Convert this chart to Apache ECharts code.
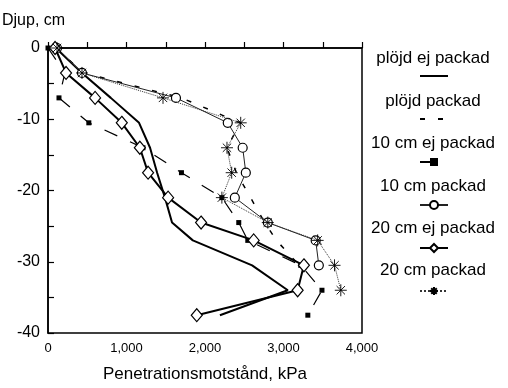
<!DOCTYPE html>
<html>
<head>
<meta charset="utf-8">
<script src="https://cdn.jsdelivr.net/npm/echarts@6/dist/echarts.min.js"></script>
<style>
html,body{margin:0;padding:0;background:#fff;}
#c{width:508px;height:388px;}
</style>
</head>
<body>
<div id="c"></div>
<script>
// ---- data ----
var depths = [0, -3.5, -7, -10.5, -14, -17.5, -21, -24.5, -27, -30.5, -34, -37.5];
var seriesNames = ['plöjd ej packad', 'plöjd packad', '10 cm ej packad', '10 cm packad', '20 cm ej packad', '20 cm packad'];
var plojdEjPackad = [100, 433, 800, 1160, 1300, 1390, 1490, 1580, 1845, 2600, 3055, 2190];
var plojdPackad = [100, 450, 1700, 2450, 2280, 2400, 2580, 2760, 2910, 3200];
var cm10EjPackad = [0, 216, 140, 520, 1210, 1700, 2215, 2430, 2545, 3220, 3490, 3310];
var cm10Packad = [115, 433, 1630, 2290, 2480, 2520, 2380, 2800, 3410, 3450];
var cm20EjPackad = [90, 230, 600, 940, 1170, 1275, 1530, 1950, 2620, 3260, 3180, 1895];
var cm20Packad = [115, 433, 1465, 2455, 2280, 2340, 2215, 2800, 3435, 3650, 3730];
var xTicks = [0, 1000, 2000, 3000, 4000];
var yTicks = [0, -10, -20, -30, -40];
var xTitle = 'Penetrationsmotstånd, kPa';
var yTitle = 'Djup, cm';

function pairs(vals) { return vals.map(function (v, i) { return [v, depths[i]]; }); }

var FONT = '"Liberation Sans", Arial, Helvetica, sans-serif';
var asterisk = 'path://M6 0 L6 12 M0 6 L12 6 M1.8 1.8 L10.2 10.2 M10.2 1.8 L1.8 10.2';

var chart = echarts.init(document.getElementById('c'), null, {renderer: 'canvas'});

var seriesDefs = [
  {data: plojdEjPackad, line: {color: '#000', width: 2, type: 'solid'}, symbol: 'none'},
  {data: plojdPackad, line: {color: '#000', width: 1.5, type: [5, 13]}, symbol: 'none'},
  {data: cm10EjPackad, line: {color: '#000', width: 1.2, type: [14, 14]}, symbol: 'rect', size: 5,
    item: {color: '#000', borderWidth: 0}},
  {data: cm10Packad, line: {color: '#222', width: 1, type: 'solid'}, symbol: 'circle', size: 9,
    item: {color: '#fff', borderColor: '#000', borderWidth: 1.2}},
  {data: cm20EjPackad, line: {color: '#000', width: 2, type: 'solid'}, symbol: 'diamond', size: [11, 13],
    item: {color: '#fff', borderColor: '#000', borderWidth: 1.2}},
  {data: cm20Packad, line: {color: '#333', width: 1, type: 'dotted'}, symbol: asterisk, size: 12,
    item: {color: 'rgba(0,0,0,0)', borderColor: '#000', borderWidth: 0.9}}
];

var series = seriesDefs.map(function (d, i) {
  return {
    name: seriesNames[i],
    type: 'line',
    data: pairs(d.data),
    symbol: d.symbol,
    symbolSize: d.size || 0,
    showSymbol: d.symbol !== 'none',
    lineStyle: d.line,
    itemStyle: d.item || {color: '#000'},
    color: '#000',
    animation: false,
    silent: true,
    z: 3 + i
  };
});

var legendCenters = [76, 119, 162, 205, 248, 291];
var legendTexts = [58, 101, 143, 186, 228, 270];

var legends = seriesNames.map(function (n, i) {
  var noSym = seriesDefs[i].symbol === 'none';
  var lg = {
    data: [n],
    left: 419,
    top: legendCenters[i] - 5,
    itemWidth: 28,
    itemHeight: 10,
    padding: 0,
    selectedMode: false,
    formatter: function () { return ''; },
    textStyle: {fontSize: 1}
  };
  if (noSym) {
    lg.itemStyle = {opacity: 0, color: 'rgba(0,0,0,0)', borderWidth: 0};
  }
  return lg;
});

var graphics = seriesNames.map(function (n, i) {
  return {
    type: 'text',
    x: 433,
    y: legendTexts[i],
    style: {
      text: n,
      font: '17px ' + FONT,
      fill: '#000',
      textAlign: 'center',
      textVerticalAlign: 'middle'
    }
  };
});
graphics.push({
  type: 'text', x: 2, y: 21,
  style: {text: yTitle, font: '16px ' + FONT, fill: '#000', textAlign: 'left', textVerticalAlign: 'middle'}
});

chart.setOption({
  backgroundColor: '#fff',
  animation: false,
  grid: {left: 48, right: 146, top: 48, bottom: 50, show: true, borderColor: '#000', borderWidth: 1.5, backgroundColor: 'transparent'},
  legend: legends,
  graphic: graphics,
  xAxis: {
    type: 'value', min: 0, max: 4000, interval: 1000,
    name: xTitle, nameLocation: 'middle', nameGap: 33,
    nameTextStyle: {fontSize: 17, fontFamily: FONT, color: '#000'},
    axisLine: {show: true, lineStyle: {color: '#000', width: 1.5}},
    axisTick: {show: true, inside: true, length: 6, lineStyle: {color: '#000', width: 1.2}},
    minorTick: {show: true, splitNumber: 2, length: 6, lineStyle: {color: '#000', width: 1.2}},
    splitLine: {show: false},
    axisLabel: {
      color: '#000', fontSize: 13, fontFamily: FONT, margin: 9,
      formatter: function (v) { return xTicks.indexOf(v) >= 0 ? v.toLocaleString('en-US') : ''; }
    }
  },
  yAxis: {
    type: 'value', min: -40, max: 0, interval: 10,
    axisLine: {show: true, lineStyle: {color: '#000', width: 1.5}},
    axisTick: {show: true, inside: true, length: 6, lineStyle: {color: '#000', width: 1.2}},
    minorTick: {show: true, splitNumber: 2, length: 6, lineStyle: {color: '#000', width: 1.2}},
    splitLine: {show: false},
    axisLabel: {
      color: '#000', fontSize: 16, fontFamily: FONT, margin: 8,
      formatter: function (v) { return yTicks.indexOf(v) >= 0 ? String(v) : ''; }
    }
  },
  series: series
});
</script>
</body>
</html>
